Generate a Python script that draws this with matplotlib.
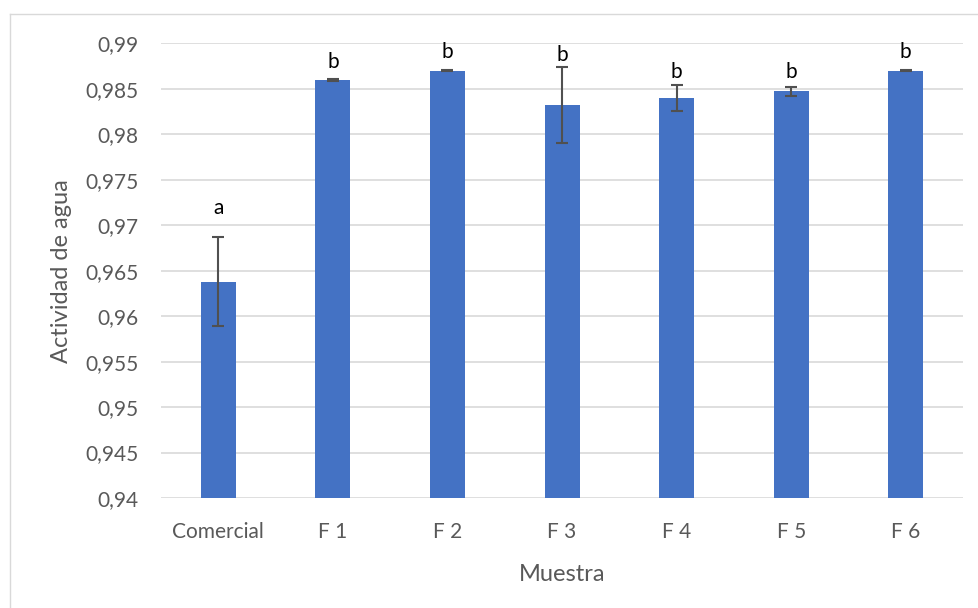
import matplotlib.pyplot as plt
from matplotlib.lines import Line2D
import numpy as np

# water activity per sample, mean and std deviation
SAMPLES = ["Comercial", "F 1", "F 2", "F 3", "F 4", "F 5", "F 6"]
AW_MEAN = [0.9638, 0.9860, 0.9870, 0.9832, 0.9840, 0.9847, 0.9870]
AW_STD = [0.0049, 0.0001, 0.0001, 0.0042, 0.0014, 0.0005, 0.0001]
GROUPS = ["a", "b", "b", "b", "b", "b", "b"]

Y_TICKS = [0.94, 0.945, 0.95, 0.955, 0.96, 0.965, 0.97, 0.975, 0.98, 0.985, 0.99]
Y_TICK_LABELS = ["0,94", "0,945", "0,95", "0,955", "0,96", "0,965",
                 "0,97", "0,975", "0,98", "0,985", "0,99"]

BAR_COLOR = "#4472C4"
GRID_COLOR = "#D9D9D9"
TEXT_COLOR = "#595959"

plt.rcParams['font.family'] = ['Lato', 'DejaVu Sans']

fig = plt.figure(figsize=(9.79, 6.08), dpi=100)
ax = fig.add_axes([0.1645, 0.1809, 0.8192, 0.7479])

x = np.arange(len(SAMPLES))
ax.bar(x, AW_MEAN, width=0.305, color=BAR_COLOR, zorder=3)
ax.errorbar(x, AW_MEAN, yerr=AW_STD, fmt='none', ecolor="#505050",
            elinewidth=1.5, capsize=4.5, capthick=1.5, zorder=4)

# significance letters above the error bars
letter_offsets = [21, 12, 13, 8.6, 9.4, 10.5, 13]
for xi, m, s, g, off in zip(x, AW_MEAN, AW_STD, GROUPS, letter_offsets):
    ax.annotate(g, (xi, m + s), xytext=(0, off), textcoords='offset points',
                ha='center', va='center', fontsize=15, color='black', zorder=5)

ax.set_xlim(-0.5, len(SAMPLES) - 0.5)
ax.set_ylim(0.94, 0.99)
ax.set_yticks(Y_TICKS)
ax.set_yticklabels(Y_TICK_LABELS)
ax.set_xticks(x)
ax.set_xticklabels(SAMPLES)

ax.grid(axis='y', color=GRID_COLOR, linewidth=1.2, zorder=0)
ax.set_axisbelow(True)
for sp in ax.spines.values():
    sp.set_visible(False)
ax.tick_params(axis='both', length=0, labelsize=15, colors=TEXT_COLOR)
ax.tick_params(axis='y', pad=16)
ax.tick_params(axis='x', pad=17)

ax.set_xlabel("Muestra", fontsize=17, color=TEXT_COLOR, labelpad=16)
ax.set_ylabel("Actividad de agua", fontsize=17, color=TEXT_COLOR, labelpad=10)

# chart area frame
fig.add_artist(Line2D([10 / 979, 1.0], [1 - 14 / 608, 1 - 14 / 608],
                      color=GRID_COLOR, linewidth=1, transform=fig.transFigure))
fig.add_artist(Line2D([10 / 979, 10 / 979], [0.0, 1 - 14 / 608],
                      color=GRID_COLOR, linewidth=1, transform=fig.transFigure))

fig.savefig("out.png", dpi=100)
